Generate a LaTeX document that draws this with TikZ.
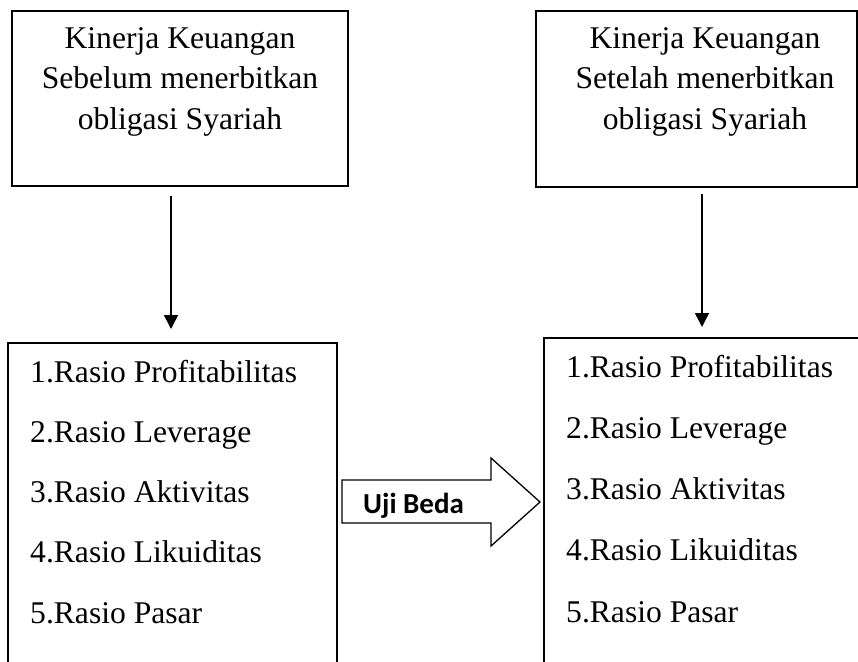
\documentclass[tikz,border=0pt]{standalone}
\usepackage{fontspec}
\setmainfont{Liberation Serif}
\newfontfamily\carlito{Carlito}
\usetikzlibrary{arrows.meta,calc}
\tikzset{
  box/.style={draw, rectangle, line width=2pt, inner sep=0pt},
  title/.style={align=center, inner sep=0pt, font=\fontsize{31.6}{40.5}\selectfont},
  item/.style={anchor=base west, inner sep=0pt, font=\fontsize{31.6}{37}\selectfont},
  arr/.style={line width=1.6pt, -{Triangle[width=14pt,length=14pt]}},
  bigarrow/.style={draw, line width=1.3pt, fill=white},
}
\begin{document}
\begin{tikzpicture}[x=1pt,y=-1pt]
\useasboundingbox (0,0) rectangle (858,661);
% top boxes
\node[box, minimum width=336pt, minimum height=175pt] (tl) at (180,98.5) {};
\node[box, minimum width=321pt, minimum height=175pt] (tr) at (696.5,99) {};
\node[title, anchor=base] (tlt) at (180,129) {Kinerja Keuangan\\Sebelum menerbitkan\\obligasi Syariah};
\node[title, anchor=base] (trt) at (705,129) {Kinerja Keuangan\\Setelah menerbitkan\\obligasi Syariah};
% bottom boxes (open at the bottom edge of the page)
\node[box, minimum width=329pt, minimum height=337pt] (bl) at (172.5,511.5) {};
\node[box, minimum width=336pt, minimum height=342pt] (br) at (712,509) {};
% left list
\node[item] (l1) at (30,382) {1.Rasio Profitabilitas};
\node[item] (l2) at (30,442.25) {2.Rasio Leverage};
\node[item] (l3) at (30,502.5) {3.Rasio Aktivitas};
\node[item] (l4) at (30,562.75) {4.Rasio Likuiditas};
\node[item] (l5) at (30,623) {5.Rasio Pasar};
% right list
\node[item] (r1) at (566,377) {1.Rasio Profitabilitas};
\node[item] (r2) at (566,438.25) {2.Rasio Leverage};
\node[item] (r3) at (566,499.5) {3.Rasio Aktivitas};
\node[item] (r4) at (566,560.75) {4.Rasio Likuiditas};
\node[item] (r5) at (566,622) {5.Rasio Pasar};
% vertical arrows
\draw[arr] ($(tl.south)+(-9,9)$) -- ($(bl.north)+(-1.5,-13)$);
\draw[arr] ($(tr.south)+(5.5,6.5)$) -- ($(br.north)+(-10,-10)$);
% big block arrow
\draw[bigarrow] (342,480) -- (491,480) -- (491,458) -- (540,502) -- (491,546) -- (491,523) -- (342,523) -- cycle;
\node[anchor=base west, inner sep=0pt, font=\carlito\bfseries\fontsize{29}{30}\selectfont] (uji) at (363,513) {Uji Beda};
\end{tikzpicture}
\end{document}
